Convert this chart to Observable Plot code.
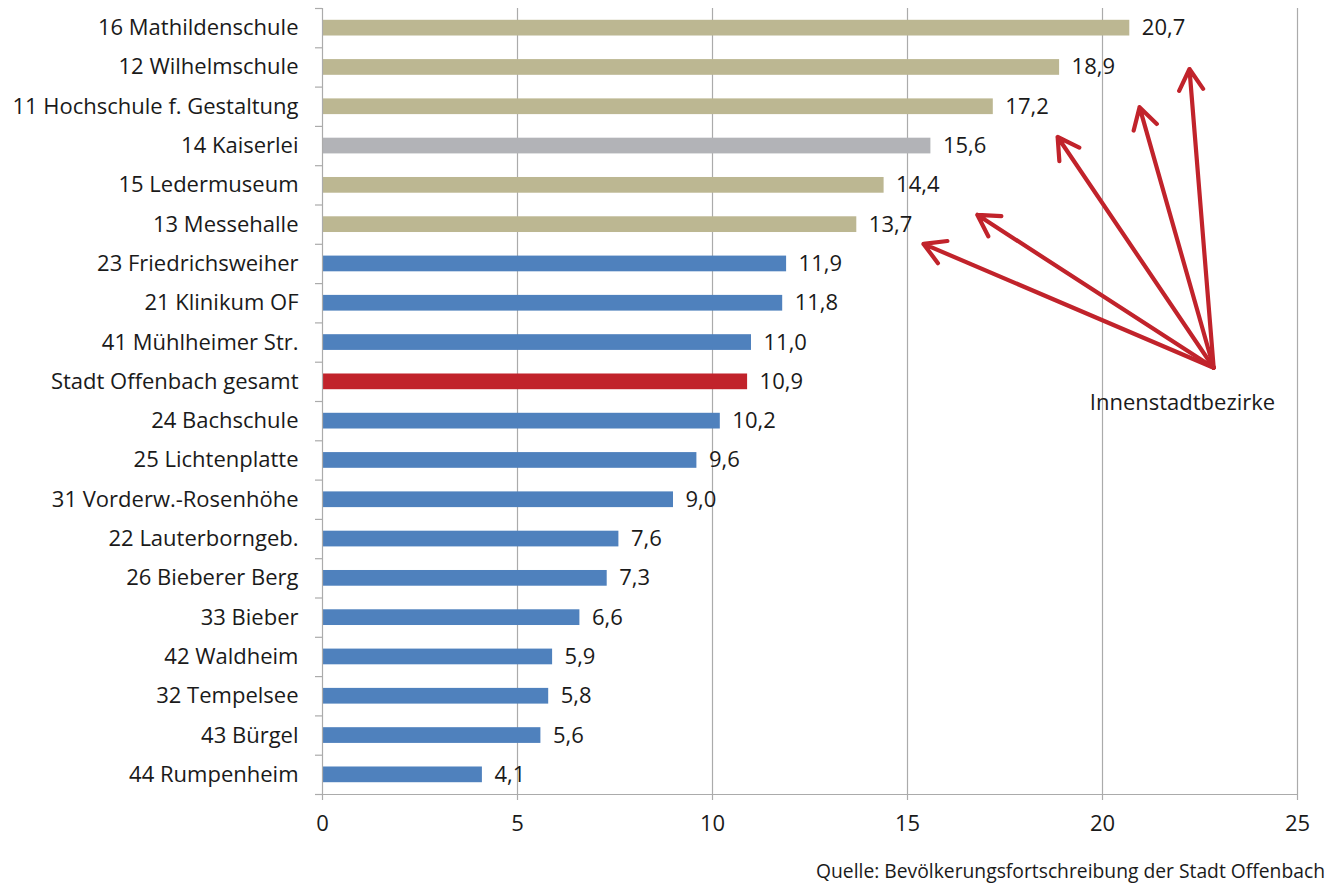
<!DOCTYPE html>
<html>
<head>
<meta charset="utf-8">
<script src="https://cdn.jsdelivr.net/npm/d3@7"></script>
<script src="https://cdn.jsdelivr.net/npm/@observablehq/plot@0.6"></script>
<style>
  body { margin: 0; background: #fff; font-family: "Open Sans", sans-serif; }
  #caption { width: 1332px; text-align: right; font-size: 19.3px; color: #1a1a1a; box-sizing: border-box; padding-right: 7px; margin-top: 2px; }
</style>
</head>
<body>
<div id="chart"></div>
<div id="caption">Quelle: Bevölkerungsfortschreibung der Stadt Offenbach</div>
<script>
const names = ["16 Mathildenschule","12 Wilhelmschule","11 Hochschule f. Gestaltung","14 Kaiserlei","15 Ledermuseum","13 Messehalle","23 Friedrichsweiher","21 Klinikum OF","41 Mühlheimer Str.","Stadt Offenbach gesamt","24 Bachschule","25 Lichtenplatte","31 Vorderw.-Rosenhöhe","22 Lauterborngeb.","26 Bieberer Berg","33 Bieber","42 Waldheim","32 Tempelsee","43 Bürgel","44 Rumpenheim"];
const values = [20.7,18.9,17.2,15.6,14.4,13.7,11.9,11.8,11.0,10.9,10.2,9.6,9.0,7.6,7.3,6.6,5.9,5.8,5.6,4.1];
const groups = ["Innenstadt","Innenstadt","Innenstadt","Kaiserlei","Innenstadt","Innenstadt","Bezirk","Bezirk","Bezirk","Gesamt","Bezirk","Bezirk","Bezirk","Bezirk","Bezirk","Bezirk","Bezirk","Bezirk","Bezirk","Bezirk"];
const xTicks = [0,5,10,15,20,25];
const annotationText = "Innenstadtbezirke";
// arrow annotation: origin and tips (value units, row index units)
const arrowOrigin = {x: 22.85, y: 8.64};
const arrowTipsX = [15.41, 16.79, 18.85, 20.95, 22.23];
const arrowTipsY = [5.49, 4.75, 2.77, 2.01, 1.04];
const annotationPos = {x: 22.05, y: 9.54};

const data = names.map((n, i) => ({name: n, i, value: values[i], group: groups[i]}));
const arrows = arrowTipsX.map((x, k) => ({x1: arrowOrigin.x, y1: arrowOrigin.y, x2: x, y2: arrowTipsY[k]}));
const fmt = v => d3.format(".1f")(v).replace(".", ",");
const grid = "#ababab";
const red = "#c1232b";
const font = "'Open Sans', sans-serif";

const chart = Plot.plot({
  width: 1332,
  height: 855,
  marginTop: 8,
  marginLeft: 322,
  marginRight: 35,
  marginBottom: 61,
  style: {fontFamily: font, fontSize: "22px", color: "#1a1a1a", background: "#fff"},
  x: {domain: [0, 25]},
  y: {domain: [19.5, -0.5]},
  color: {domain: ["Innenstadt","Kaiserlei","Bezirk","Gesamt"], range: ["#bcb792","#b2b3b7","#4f81bd","#c1232b"]},
  marks: [
    Plot.ruleX(xTicks.filter(d => d > 0), {stroke: grid, strokeWidth: 1.2}),
    Plot.rect(data, {x1: 0, x2: "value", y1: d => d.i - 0.2, y2: d => d.i + 0.2, fill: "group"}),
    Plot.ruleX([0], {stroke: grid, strokeWidth: 1.2}),
    Plot.ruleY([19.5], {stroke: grid, strokeWidth: 1.2}),
    Plot.axisY({ticks: d3.range(-0.5, 20, 1), tickFormat: () => "", tickSize: 7, stroke: grid, strokeWidth: 1.2}),
    Plot.axisY({ticks: d3.range(0, 20), tickFormat: i => names[i], tickSize: 0, tickPadding: 24, fontSize: 22, fill: "#1a1a1a"}),
    Plot.axisX({ticks: xTicks, tickSize: 6, tickPadding: 15, stroke: grid, strokeWidth: 1.2, fontSize: 22, fill: "#1a1a1a", tickFormat: d => String(d)}),
    Plot.text(data, {x: "value", y: "i", text: d => fmt(d.value), dx: 12, textAnchor: "start", fontSize: 22, fill: "#1a1a1a"}),
    Plot.arrow(arrows, {x1: "x1", y1: "y1", x2: "x2", y2: "y2", stroke: red, strokeWidth: 4.2, headLength: 8.6, headAngle: 60}),
    Plot.text([annotationText], {x: annotationPos.x, y: annotationPos.y, text: d => d, fontSize: 22, fill: "#1a1a1a"})
  ]
});
document.getElementById("chart").appendChild(chart);
</script>
</body>
</html>
